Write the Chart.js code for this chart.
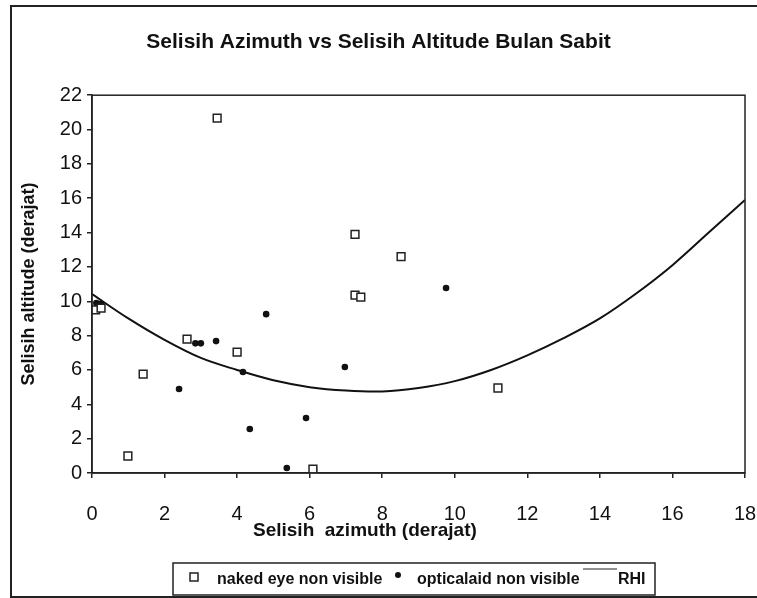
<!DOCTYPE html>
<html>
<head>
<meta charset="utf-8">
<title>Selisih Azimuth vs Selisih Altitude Bulan Sabit</title>
<script src="https://cdn.jsdelivr.net/npm/chart.js@4.4.1/dist/chart.umd.min.js"></script>
<style>
  body { margin: 0; background: #fff; }
  #wrap { width: 757px; height: 598px; }
</style>
</head>
<body>
<div id="wrap"><canvas id="rhiChart"></canvas></div>
<script>
// --- values ---
const nakedEyeAz  = [3.45, 7.25, 8.52, 7.25, 7.41, 0.10, 0.25, 2.62, 4.00, 1.41, 0.99, 6.09, 11.19];
const nakedEyeAlt = [20.66, 13.9, 12.6, 10.36, 10.24, 9.5, 9.6, 7.8, 7.04, 5.76, 0.99, 0.23, 4.95];

const opticalAz  = [0.12, 0.25, 2.85, 3.0, 3.42, 4.8, 2.4, 4.16, 4.35, 5.9, 5.37, 6.97, 9.76, 6.12];
const opticalAlt = [9.9, 9.85, 7.55, 7.55, 7.68, 9.25, 4.89, 5.88, 2.56, 3.2, 0.29, 6.17, 10.77, 0.17];

const rhiAz  = [0, 1, 2, 3, 4, 5, 6, 7, 8, 9, 10, 11, 12, 13, 14, 15, 16, 17, 18];
const rhiAlt = [10.42, 9.0, 7.75, 6.7, 6.0, 5.4, 5.0, 4.8, 4.75, 4.95, 5.35, 6.0, 6.85, 7.85, 9.0, 10.45, 12.1, 14.0, 15.9];

const xTicks = [0, 2, 4, 6, 8, 10, 12, 14, 16, 18];
const yTicks = [0, 2, 4, 6, 8, 10, 12, 14, 16, 18, 20, 22];

const FONT = "'Liberation Sans', Arial, sans-serif";

document.addEventListener("DOMContentLoaded", function () {
  Chart.defaults.font.family = FONT;
  Chart.defaults.color = "#111";

  const toPoints = (xs, ys) => xs.map((x, i) => ({ x: x, y: ys[i] }));

  // --- frame, plot box, x title and the boxed legend of the old Excel chart ---
  const scanFrame = {
    id: "scanFrame",
    beforeDraw(chart) {
      const ctx = chart.ctx;
      ctx.save();
      ctx.fillStyle = "#fff";
      ctx.fillRect(0, 0, chart.width, chart.height);
      ctx.restore();
    },
    afterDraw(chart) {
      const ctx = chart.ctx;
      const a = chart.chartArea;
      const sets = chart.data.datasets;
      ctx.save();
      ctx.strokeStyle = "#222";
      ctx.lineWidth = 2;
      ctx.strokeRect(11, 6, 800, 591);

      ctx.lineWidth = 1.5;
      ctx.strokeRect(a.left, a.top, a.right - a.left, a.bottom - a.top);

      ctx.fillStyle = "#111";
      ctx.font = "bold 19px " + FONT;
      ctx.textAlign = "left";
      ctx.textBaseline = "middle";
      ctx.fillText("Selisih  azimuth (derajat)", 253, 531);

      // legend box
      ctx.lineWidth = 1.5;
      ctx.strokeRect(173, 563, 482, 32);
      ctx.font = "bold 16px " + FONT;
      ctx.strokeRect(190, 573, 8, 8);
      ctx.fillText(sets[0].label, 217, 580);
      ctx.beginPath();
      ctx.arc(398, 575, 3, 0, Math.PI * 2);
      ctx.fill();
      ctx.fillText(sets[1].label, 417, 580);
      ctx.lineWidth = 1.2;
      ctx.beginPath();
      ctx.moveTo(583, 569);
      ctx.lineTo(617, 569);
      ctx.stroke();
      ctx.fillText(sets[2].label, 618, 580);
      ctx.restore();
    }
  };

  const ctx = document.getElementById("rhiChart").getContext("2d");

  new Chart(ctx, {
    type: "scatter",
    data: {
      datasets: [
        {
          label: "naked eye non visible",
          data: toPoints(nakedEyeAz, nakedEyeAlt),
          pointStyle: "rect",
          pointRadius: 5.5,
          pointBorderWidth: 1.5,
          pointBorderColor: "#222",
          pointBackgroundColor: "#fff",
          showLine: false
        },
        {
          label: "opticalaid non visible",
          data: toPoints(opticalAz, opticalAlt),
          pointStyle: "circle",
          pointRadius: 3.3,
          pointBorderWidth: 0,
          pointBackgroundColor: "#111",
          showLine: false
        },
        {
          label: "RHI",
          data: toPoints(rhiAz, rhiAlt),
          showLine: true,
          borderColor: "#111",
          borderWidth: 2,
          pointRadius: 0,
          tension: 0.35,
          fill: false
        }
      ]
    },
    options: {
      responsive: true,
      maintainAspectRatio: false,
      animation: false,
      layout: { padding: { left: 12, right: 12, top: 0, bottom: 47 } },
      plugins: {
        legend: { display: false },
        tooltip: { enabled: false },
        title: {
          display: true,
          text: "Selisih Azimuth vs Selisih Altitude Bulan Sabit",
          color: "#111",
          font: { size: 21, weight: "bold" },
          padding: { top: 30, bottom: 40 }
        }
      },
      scales: {
        x: {
          type: "linear",
          min: 0,
          max: 18,
          afterFit: s => { s.height = 78; s.paddingLeft = 0; s.paddingRight = 0; },
          afterBuildTicks: s => { s.ticks = xTicks.map(v => ({ value: v })); },
          grid: { display: true, drawOnChartArea: false, tickLength: 5, color: "#222", lineWidth: 1.5 },
          border: { display: true, color: "#222", width: 1.5 },
          ticks: { color: "#111", font: { size: 20 }, padding: 24, maxRotation: 0 }
        },
        y: {
          type: "linear",
          min: 0,
          max: 22,
          afterFit: s => { s.width = 80; s.paddingTop = 0; s.paddingBottom = 0; },
          afterBuildTicks: s => { s.ticks = yTicks.map(v => ({ value: v })); },
          grid: { display: true, drawOnChartArea: false, tickLength: 5, color: "#222", lineWidth: 1.5 },
          border: { display: true, color: "#222", width: 1.5 },
          ticks: { color: "#111", font: { size: 20 }, padding: 5 },
          title: {
            display: true,
            text: "Selisih altitude (derajat)",
            color: "#111",
            font: { size: 18, weight: "bold" },
            padding: { top: 6, bottom: 0 }
          }
        }
      }
    },
    plugins: [scanFrame]
  });
});
</script>
</body>
</html>
